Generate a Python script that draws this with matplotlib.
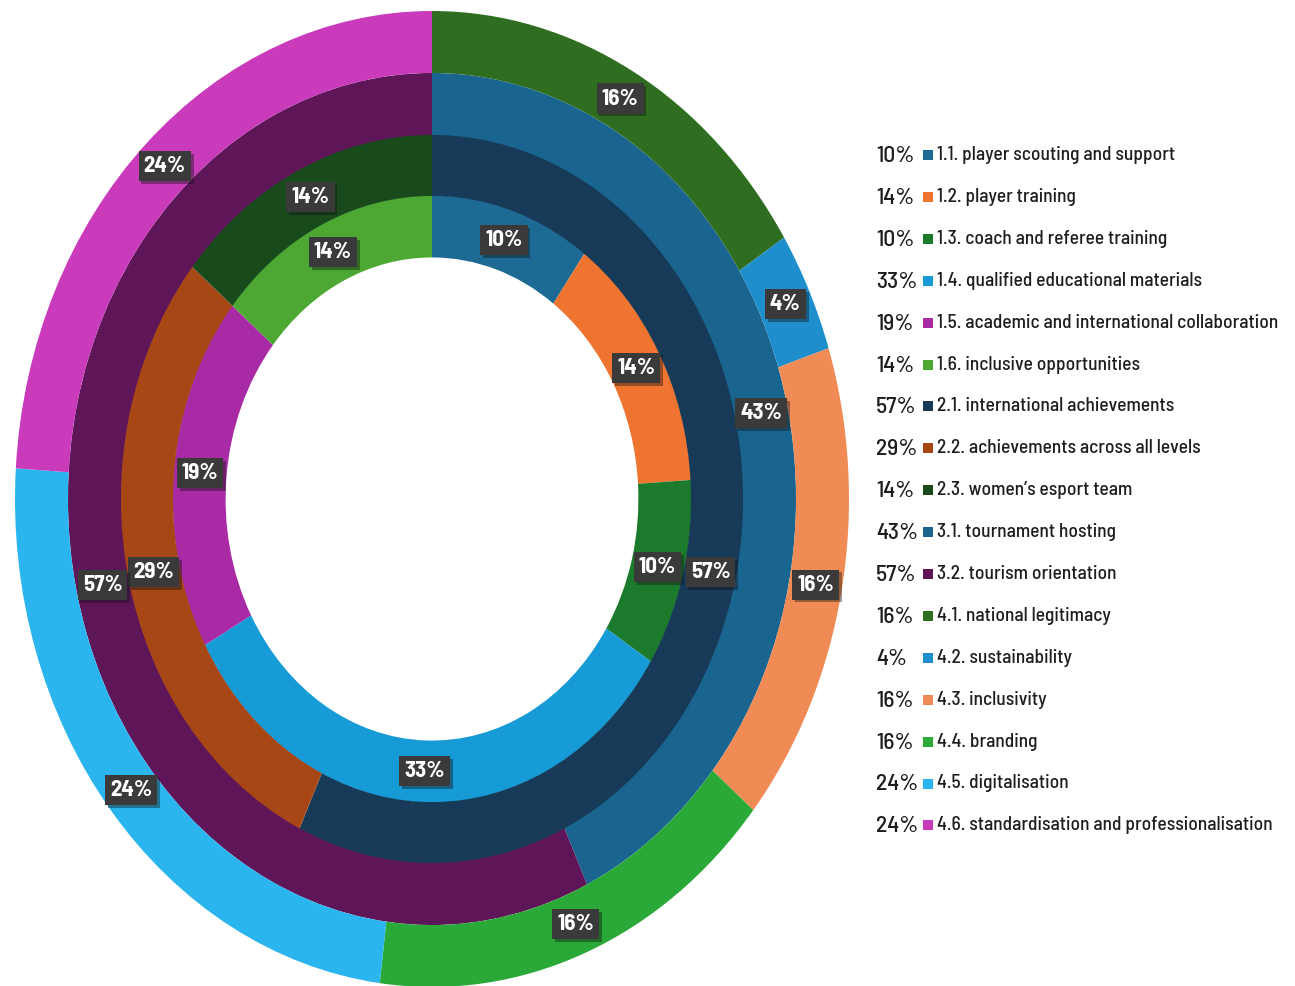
import matplotlib
matplotlib.use("Agg")
import matplotlib.pyplot as plt
import matplotlib.patheffects as pe

# ── data ─────────────────────────────────────────────────────────────────
ring1_labels = ["1.1. player scouting and support", "1.2. player training",
                "1.3. coach and referee training", "1.4. qualified educational materials",
                "1.5. academic and international collaboration", "1.6. inclusive opportunities"]
ring1_values = [10, 14, 10, 33, 19, 14]
ring1_colors = ["#1d6a94", "#ee7430", "#1c7a2c", "#179bd7", "#a92aa5", "#4ca832"]

ring2_labels = ["2.1. international achievements", "2.2. achievements across all levels",
                "2.3. women\u2019s esport team"]
ring2_values = [57, 29, 14]
ring2_colors = ["#163a57", "#a84716", "#194a1c"]

ring3_labels = ["3.1. tournament hosting", "3.2. tourism orientation"]
ring3_values = [43, 57]
ring3_colors = ["#19658f", "#5f1659"]

ring4_labels = ["4.1. national legitimacy", "4.2. sustainability", "4.3. inclusivity",
                "4.4. branding", "4.5. digitalisation",
                "4.6. standardisation and professionalisation"]
ring4_values = [16, 4, 16, 16, 24, 24]
ring4_colors = ["#2f6e21", "#1e8fcc", "#f08b55", "#2aa838", "#2ab5ee", "#c93bbb"]

rings = [
    (ring1_values, ring1_colors, ring1_labels),
    (ring2_values, ring2_colors, ring2_labels),
    (ring3_values, ring3_colors, ring3_labels),
    (ring4_values, ring4_colors, ring4_labels),
]
# outer radius of each ring, innermost first
ring_outer = [0.622, 0.748, 0.873, 1.0]
ring_width = 0.127

FONT = ["Barlow Semi Condensed", "Liberation Sans", "DejaVu Sans"]

W, H = 1295, 986
fig = plt.figure(figsize=(W / 100, H / 100), dpi=100, facecolor="white")

# donut axes: stretched vertically, centre at (432, 499) px from top-left
cx, cy, rx, ry = 432, 499, 417, 488
ax = fig.add_axes([(cx - rx) / W, (H - cy - ry) / H, 2 * rx / W, 2 * ry / H])

for (vals, cols, _), r in zip(rings, ring_outer):
    wedges, _, autotexts = ax.pie(
        vals, colors=cols, radius=r, startangle=90, counterclock=False,
        wedgeprops=dict(width=ring_width, edgecolor="none", linewidth=0),
        autopct="%.0f%%", pctdistance=(r - ring_width / 2) / r,
    )
    for t in autotexts:
        t.set(color="white", fontsize=16.5, fontweight="bold", family=FONT)
        t.set_bbox(dict(boxstyle="square,pad=0.22", facecolor="#3a3a3a",
                        edgecolor="none"))
        t.get_bbox_patch().set_path_effects(
            [pe.SimplePatchShadow(offset=(2, -2), alpha=0.4), pe.Normal()])

ax.set_aspect("auto")
ax.set_xlim(-1, 1)
ax.set_ylim(-1, 1)
ax.axis("off")

# ── legend (pixel coordinates) ───────────────────────────────────────────
lg = fig.add_axes([0, 0, 1, 1], facecolor="none")
lg.set_xlim(0, W)
lg.set_ylim(H, 0)
lg.axis("off")

row0, step = 155, 41.9
i = 0
for vals, cols, labels in rings:
    for v, c, lab in zip(vals, cols, labels):
        y = row0 + i * step
        lg.text(876, y + 1, f"{v}%", fontsize=17, color="#1e1e1e", family=FONT,
                fontweight="medium", ha="left", va="center")
        lg.scatter([927.5], [y], marker="s", s=60, color=c, linewidths=0)
        lg.text(937, y, lab, fontsize=14, color="#1e1e1e", family=FONT,
                fontweight="medium", ha="left", va="center")
        i += 1

fig.savefig("out.png", dpi=100, facecolor="white")
